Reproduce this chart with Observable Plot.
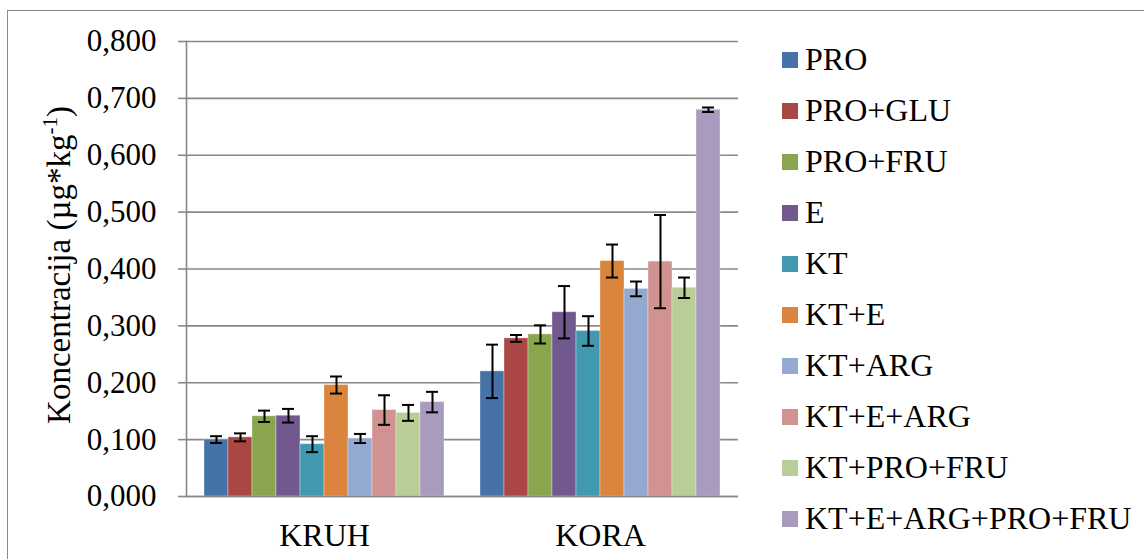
<!DOCTYPE html>
<html>
<head>
<meta charset="utf-8">
<script src="https://cdn.jsdelivr.net/npm/d3@7"></script>
<script src="https://cdn.jsdelivr.net/npm/@observablehq/plot@0.6"></script>
<style>
  html, body { margin: 0; padding: 0; background: #fff; overflow: hidden; }
  #wrap { position: relative; width: 1144px; height: 559px; overflow: hidden; background: #fff;
          font-family: "Liberation Serif", "Times New Roman", serif; color: #000; }
  #border { position: absolute; left: 7px; top: 10px; width: 1200px; height: 600px;
            border: 1.5px solid #8a8a8a; box-sizing: border-box; }
  #chart { position: absolute; left: 0; top: 0; }
  .sw { position: absolute; left: 782px; width: 16px; height: 16px; }
  .lt { position: absolute; left: 805px; font-size: 32px; line-height: 32px; white-space: nowrap;
        font-family: "Liberation Serif", "Times New Roman", serif; }
</style>
</head>
<body>
<div id="wrap">
  <div id="border"></div>
  <div id="chart"></div>
  <div id="legend"></div>
</div>
<script>
// ---- data ----
const categories = ["KRUH", "KORA"];
const series = ["PRO", "PRO+GLU", "PRO+FRU", "E", "KT", "KT+E", "KT+ARG", "KT+E+ARG", "KT+PRO+FRU", "KT+E+ARG+PRO+FRU"];
const kruhValues = [0.100, 0.104, 0.141, 0.142, 0.092, 0.196, 0.102, 0.152, 0.147, 0.166];
const kruhErrors = [0.006, 0.007, 0.010, 0.012, 0.014, 0.015, 0.008, 0.026, 0.014, 0.018];
const koraValues = [0.220, 0.278, 0.285, 0.324, 0.291, 0.414, 0.365, 0.413, 0.367, 0.680];
const koraErrors = [0.047, 0.006, 0.016, 0.046, 0.026, 0.029, 0.013, 0.082, 0.018, 0.004];
const yTicks = [0, 0.1, 0.2, 0.3, 0.4, 0.5, 0.6, 0.7, 0.8];
const colors = ["#4572A7", "#AA4643", "#89A54E", "#71588F", "#4198AF", "#DB843D", "#93A9CF", "#D19392", "#B9CD96", "#A99BBD"];
const yTitle = "Koncentracija (µg*kg";
const yTitleSup = "-1";

// ---- table ----
const valuesByCat = [kruhValues, koraValues];
const errorsByCat = [kruhErrors, koraErrors];
const table = [];
categories.forEach((c, ci) => series.forEach((s, si) => {
  table.push({category: c, series: s, value: valuesByCat[ci][si], error: errorsByCat[ci][si]});
}));

const fmt = d3.formatLocale({decimal: ",", thousands: ".", grouping: [3], currency: ["", ""]}).format(".3f");
const grid = "#888888";
const serif = '"Liberation Serif", "Times New Roman", serif';

const chart = Plot.plot({
  width: 1144,
  height: 559,
  marginLeft: 185,
  marginRight: 406,
  marginTop: 41,
  marginBottom: 63,
  style: {fontFamily: serif, fontSize: "31px", color: "#000", background: "transparent", overflow: "visible"},
  fx: {domain: categories, padding: 0, label: null},
  x: {domain: series, paddingInner: 0, paddingOuter: 0.736, axis: null},
  y: {domain: [0, 0.8], label: null},
  color: {domain: series, range: colors},
  marks: [
    Plot.ruleY(yTicks, {stroke: grid, strokeWidth: 1.6}),
    Plot.barY(table, {fx: "category", x: "series", y: "value", fill: "series", stroke: "#fff", strokeOpacity: 0.35, strokeWidth: 1}),
    Plot.ruleY([0], {stroke: grid, strokeWidth: 1.6}),
    Plot.ruleX(table, {fx: "category", x: "series", y1: d => d.value - d.error, y2: d => d.value + d.error, stroke: "#000", strokeWidth: 2}),
    Plot.tickY(table, {fx: "category", x: "series", y: d => d.value - d.error, insetLeft: 6, insetRight: 6, stroke: "#000", strokeWidth: 2}),
    Plot.tickY(table, {fx: "category", x: "series", y: d => d.value + d.error, insetLeft: 6, insetRight: 6, stroke: "#000", strokeWidth: 2}),
    Plot.axisY({ticks: yTicks, tickFormat: fmt, tickSize: 8, tickPadding: 22, stroke: grid, strokeWidth: 1.6, label: null, fontFamily: serif}),
    Plot.axisFx({anchor: "bottom", tickSize: 0, tickPadding: 27, label: null, fontFamily: serif, fontSize: 32}),
    Plot.frame({anchor: "left", facetAnchor: "left", stroke: grid, strokeWidth: 1.6})
  ]
});
document.getElementById("chart").appendChild(chart);

// y axis title (rotated, with superscript)
const svg = d3.select(chart);
const t = svg.append("text")
  .attr("transform", "translate(70,265) rotate(-90)")
  .attr("text-anchor", "middle")
  .attr("font-size", 33)
  .attr("font-family", serif)
  .attr("fill", "#000");
t.append("tspan").text(yTitle);
t.append("tspan").attr("font-size", 21).attr("dy", -13).text(yTitleSup);
t.append("tspan").attr("dy", 13).text(")");

// legend
const legend = document.getElementById("legend");
series.forEach((s, i) => {
  const sw = document.createElement("div");
  sw.className = "sw";
  sw.style.top = (52 + 51 * i) + "px";
  sw.style.background = colors[i];
  legend.appendChild(sw);
  const lt = document.createElement("div");
  lt.className = "lt";
  lt.style.top = (42.5 + 51 * i) + "px";
  lt.textContent = s;
  legend.appendChild(lt);
});
</script>
</body>
</html>
